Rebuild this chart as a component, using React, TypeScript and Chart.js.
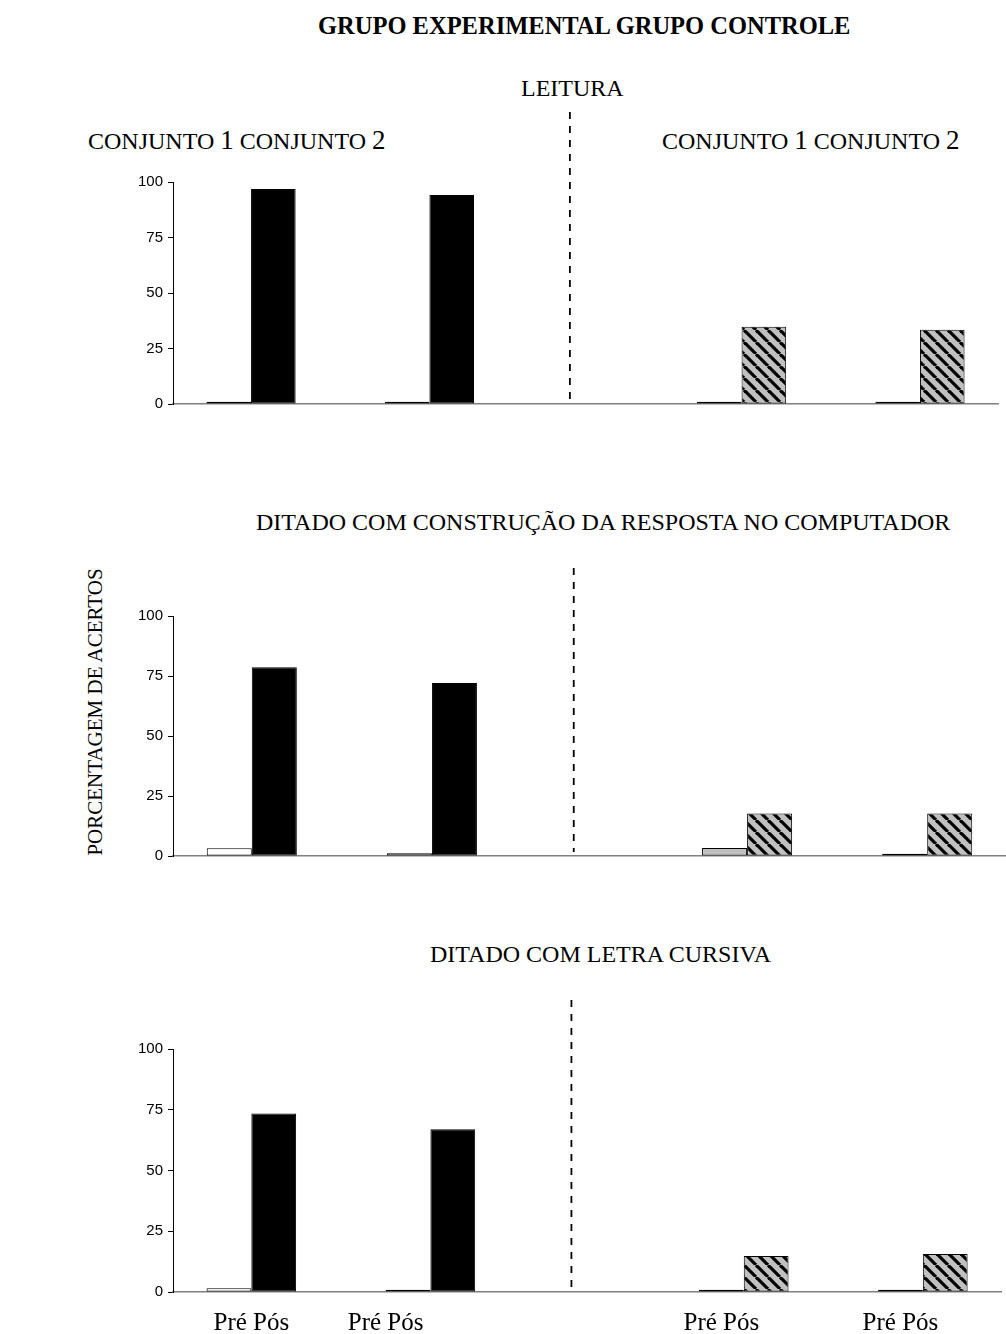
import React, { useEffect, useRef } from 'react';
import { Chart, registerables } from 'chart.js';

Chart.register(...registerables);

// ---------- data ----------
const groups = ['Exp. Conjunto 1', 'Exp. Conjunto 2', 'Ctrl. Conjunto 1', 'Ctrl. Conjunto 2'];
const yTicks = [0, 25, 50, 75, 100];
const leituraPre = [1.0, 1.0, 1.0, 1.0];
const leituraPos = [96.8, 94.2, 34.8, 33.5];
const computadorPre = [3.2, 1.1, 3.3, 0.9];
const computadorPos = [78.6, 72.1, 17.7, 17.7];
const cursivaPre = [1.5, 0.9, 0.9, 0.9];
const cursivaPos = [73.5, 67.0, 14.8, 15.6];
const phaseLabels = ['Pré Pós', 'Pré Pós', 'Pré Pós', 'Pré Pós'];

// ---------- layout of the category slots ----------
const SLOT_COUNT = 37;
const PRE_SLOTS = [2, 10, 24, 32];
const POS_SHIFT = 2;
const LABEL_SLOTS = [3, 9, 24, 32];
const DIVIDER_SLOT = 17.3;

const serif = '"Liberation Serif", "Times New Roman", serif';
const sans = '"Liberation Sans", Arial, sans-serif';

function slotData(values: number[], idx: number[], shift: number) {
  const arr: (number | null)[] = new Array(SLOT_COUNT).fill(null);
  idx.forEach((g) => {
    arr[PRE_SLOTS[g] + shift] = values[g];
  });
  return arr;
}

function slotLabels() {
  const arr: string[] = new Array(SLOT_COUNT).fill('');
  LABEL_SLOTS.forEach((s, i) => {
    arr[s] = phaseLabels[i];
  });
  return arr;
}

function makeHatch(): CanvasPattern | string {
  const c = document.createElement('canvas');
  const s = 12;
  c.width = s;
  c.height = s;
  const g = c.getContext('2d');
  if (!g) return '#c0c0c0';
  g.fillStyle = '#c0c0c0';
  g.fillRect(0, 0, s, s);
  g.strokeStyle = '#000';
  g.lineWidth = 3.2;
  for (const k of [-1, 0, 1]) {
    g.beginPath();
    g.moveTo(k * s, 0);
    g.lineTo(k * s + s, s);
    g.stroke();
  }
  return g.createPattern(c, 'repeat') || '#c0c0c0';
}

type PanelDef = {
  pre: number[];
  pos: number[];
  top: number;
  padTop: number;
  plotH: number;
  rightPad: number;
  dashAbove: number;
  labels: boolean;
};

const PANELS: PanelDef[] = [
  { pre: leituraPre, pos: leituraPos, top: 102, padTop: 80, plotH: 226, rightPad: 8, dashAbove: 70, labels: false },
  { pre: computadorPre, pos: computadorPos, top: 556, padTop: 60, plotH: 244, rightPad: 0, dashAbove: 48, labels: false },
  { pre: cursivaPre, pos: cursivaPos, top: 989, padTop: 60, plotH: 243, rightPad: 0, dashAbove: 49, labels: true },
];

const X_AXIS_H_LABELS = 42;
const PAD_BOTTOM = 10;
const Y_AXIS_W = 173;

function panelHeight(p: PanelDef) {
  return p.padTop + p.plotH + (p.labels ? X_AXIS_H_LABELS : 0) + (p.labels ? 0 : PAD_BOTTOM);
}

const dividerPlugin = {
  id: 'divider',
  afterDatasetsDraw(chart: any, _args: any, opts: any) {
    const { ctx, chartArea, scales } = chart;
    const x = scales.x.getPixelForValue(DIVIDER_SLOT);
    const yBottom = scales.y.getPixelForValue(0) - 4;
    ctx.save();
    ctx.strokeStyle = '#000';
    ctx.lineWidth = 1.8;
    ctx.setLineDash([7, 7]);
    ctx.beginPath();
    ctx.moveTo(x, chartArea.top - (opts.above || 0));
    ctx.lineTo(x, yBottom);
    ctx.stroke();
    ctx.restore();
  },
};

function Panel({ def }: { def: PanelDef }) {
  const ref = useRef<HTMLCanvasElement | null>(null);
  useEffect(() => {
    if (!ref.current) return;
    const hatch = makeHatch();
    const labels = slotLabels();
    const common = { grouped: false, categoryPercentage: 1, barPercentage: 2, borderSkipped: false as const };
    const chart = new Chart(ref.current, {
      type: 'bar',
      data: {
        labels,
        datasets: [
          { label: 'Experimental Pré', data: slotData(def.pre, [0, 1], 0), backgroundColor: '#ffffff', borderColor: '#000', borderWidth: 1, ...common },
          { label: 'Experimental Pós', data: slotData(def.pos, [0, 1], POS_SHIFT), backgroundColor: '#000000', borderColor: '#000', borderWidth: 1, ...common },
          { label: 'Controle Pré', data: slotData(def.pre, [2, 3], 0), backgroundColor: '#c0c0c0', borderColor: '#000', borderWidth: 1, ...common },
          { label: 'Controle Pós', data: slotData(def.pos, [2, 3], POS_SHIFT), backgroundColor: hatch as any, borderColor: '#000', borderWidth: 1, ...common },
        ],
      },
      options: {
        animation: false,
        responsive: false,
        events: [],
        layout: { padding: { top: def.padTop, right: def.rightPad, bottom: def.labels ? 0 : PAD_BOTTOM, left: 0 } },
        plugins: {
          legend: { display: false },
          tooltip: { enabled: false },
          title: { display: false },
          divider: { above: def.dashAbove },
        } as any,
        scales: {
          x: {
            type: 'category',
            offset: true,
            grid: { display: false, drawTicks: false },
            border: { display: true, color: '#808080', width: 1.5 },
            ticks: {
              display: def.labels,
              autoSkip: false,
              maxRotation: 0,
              minRotation: 0,
              padding: 16,
              color: '#000',
              font: { family: serif, size: 25 },
            },
            afterFit: (scale: any) => {
              scale.height = def.labels ? X_AXIS_H_LABELS : 0;
            },
          },
          y: {
            min: yTicks[0],
            max: yTicks[yTicks.length - 1],
            afterBuildTicks: (scale: any) => {
              scale.ticks = yTicks.map((v) => ({ value: v }));
            },
            grid: { drawOnChartArea: false, drawTicks: true, tickLength: 5, color: '#000' },
            border: { display: true, color: '#000', width: 1 },
            ticks: {
              padding: 5,
              color: '#000',
              font: { family: sans, size: 15 },
            },
            afterFit: (scale: any) => {
              scale.width = Y_AXIS_W;
            },
          },
        },
      },
      plugins: [dividerPlugin],
    });
    return () => chart.destroy();
  }, [def]);
  return (
    <canvas
      ref={ref}
      width={1006}
      height={panelHeight(def)}
      style={{ position: 'absolute', left: 0, top: def.top, width: 1006, height: panelHeight(def) }}
    />
  );
}

function Txt({ left, baseline, size, bold, children }: { left: number; baseline: number; size: number; bold?: boolean; children: React.ReactNode }) {
  return (
    <div
      style={{
        position: 'absolute',
        left,
        top: baseline - 0.8375 * size,
        fontSize: size,
        lineHeight: `${size}px`,
        fontFamily: serif,
        fontWeight: bold ? 'bold' : 'normal',
        whiteSpace: 'nowrap',
        color: '#000',
      }}
    >
      {children}
    </div>
  );
}

function Conjuntos({ left }: { left: number }) {
  return (
    <Txt left={left} baseline={148} size={24}>
      CONJUNTO <span style={{ fontSize: 27 }}>1</span> CONJUNTO <span style={{ fontSize: 27 }}>2</span>
    </Txt>
  );
}

export default function App() {
  return (
    <div style={{ position: 'absolute', left: 0, top: 0, width: 1006, height: 1334, background: '#fff', overflow: 'hidden' }}>
      <Txt left={318} baseline={35} size={24.5} bold>
        GRUPO EXPERIMENTAL GRUPO CONTROLE
      </Txt>
      <Txt left={521} baseline={96} size={24}>
        LEITURA
      </Txt>
      <Conjuntos left={88} />
      <Conjuntos left={662} />
      <Txt left={256} baseline={530} size={24}>
        DITADO COM CONSTRUÇÃO DA RESPOSTA NO COMPUTADOR
      </Txt>
      <Txt left={430} baseline={962} size={24}>
        DITADO COM LETRA CURSIVA
      </Txt>
      <div
        style={{
          position: 'absolute',
          left: 95,
          top: 712,
          transform: 'translate(-50%, -50%) rotate(-90deg)',
          fontFamily: serif,
          fontSize: 21,
          lineHeight: '21px',
          whiteSpace: 'nowrap',
          color: '#000',
        }}
      >
        PORCENTAGEM DE ACERTOS
      </div>
      {PANELS.map((p, i) => (
        <Panel key={i} def={p} />
      ))}
      <span style={{ display: 'none' }}>{groups.join(',')}</span>
    </div>
  );
}
